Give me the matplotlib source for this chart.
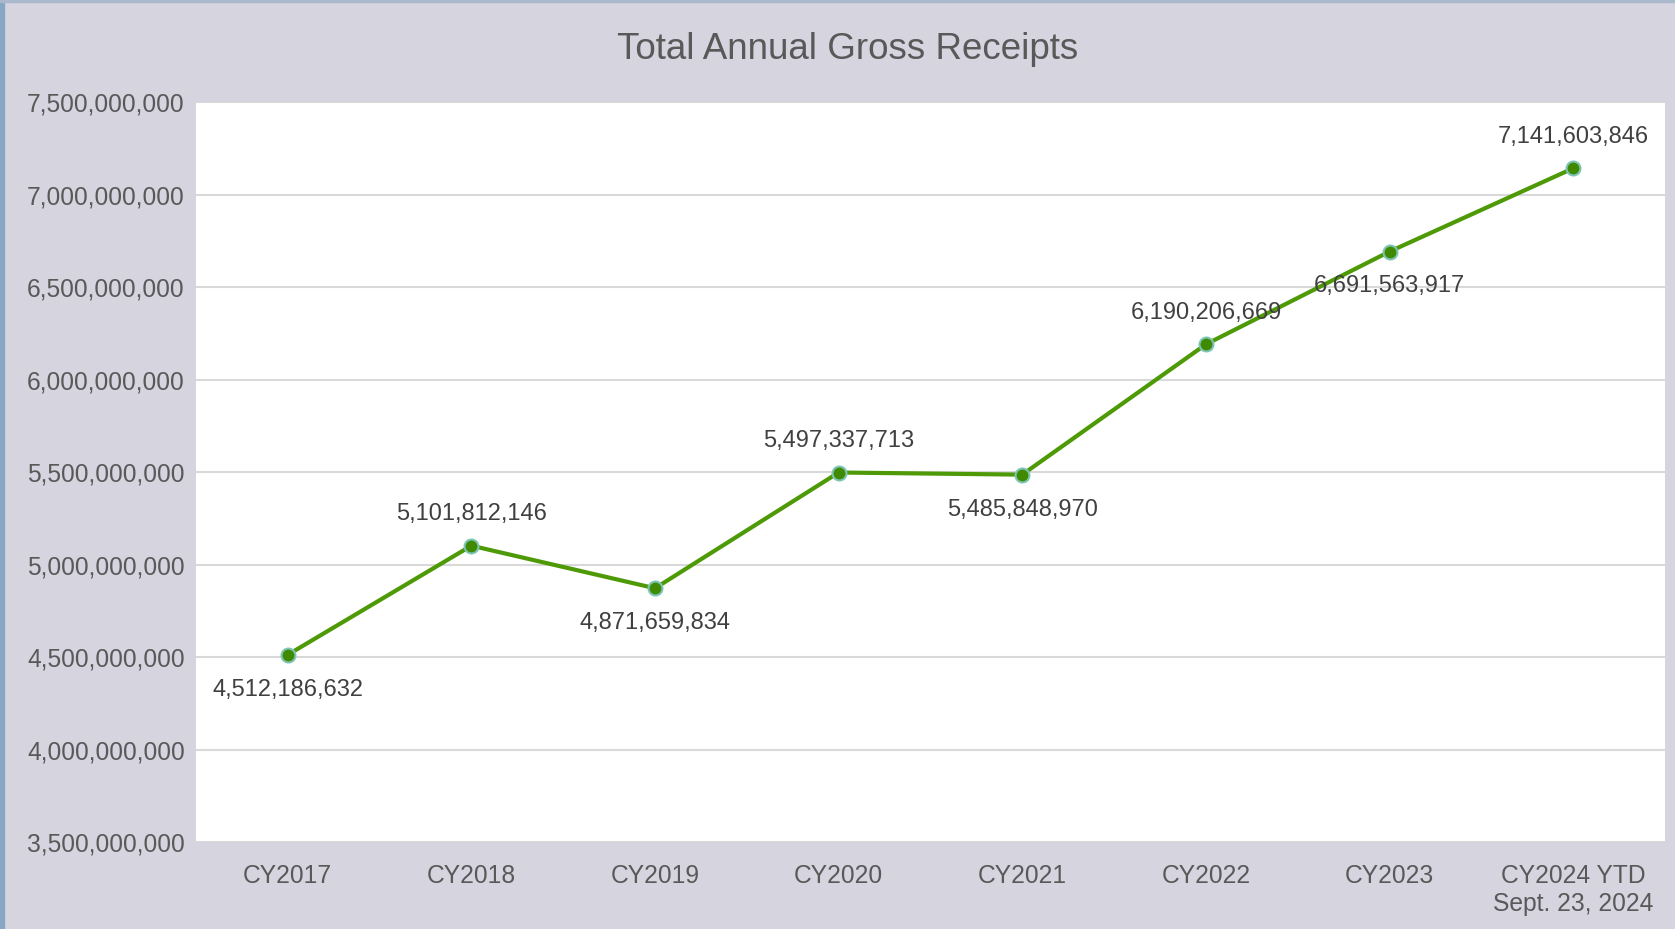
import matplotlib
matplotlib.use("Agg")
import matplotlib.pyplot as plt
import matplotlib.patches as mpatches
from matplotlib.ticker import FuncFormatter

# ── Data ──────────────────────────────────────────────────────────────────────
categories = ["CY2017", "CY2018", "CY2019", "CY2020", "CY2021",
              "CY2022", "CY2023", "CY2024 YTD\nSept. 23, 2024"]
receipts = [4512186632, 5101812146, 4871659834, 5497337713,
            5485848970, 6190206669, 6691563917, 7141603846]
label_side = ["below", "above", "below", "above", "below", "above", "below", "above"]

BG = "#d5d4df"
TXT = "#595959"
LINE = "#4e9a06"

plt.rcParams["font.family"] = ["Liberation Sans", "DejaVu Sans"]

fig = plt.figure(figsize=(16.75, 9.292), dpi=100, facecolor=BG)
ax = fig.add_axes([0.117, 0.0936, 0.877, 0.7964])
ax.set_facecolor("white")

x = list(range(len(categories)))
ax.plot(x, receipts, color=LINE, linewidth=3, zorder=3,
        marker="o", markersize=10, markerfacecolor="#3f8a00",
        markeredgecolor="#7cc4b4", markeredgewidth=1.5)

for xi, v, side in zip(x, receipts, label_side):
    dy = 23 if side == "above" else -25
    ax.annotate(f"{v:,}", (xi, v), xytext=(0, dy), textcoords="offset points",
                ha="center", va="center", fontsize=17, color="#404040", zorder=4)

ax.set_xlim(-0.5, len(categories) - 0.5)
ax.set_ylim(3.5e9, 7.5e9)
ax.set_yticks([3.5e9 + i * 5e8 for i in range(9)])
ax.yaxis.set_major_formatter(FuncFormatter(lambda v, p: f"{int(v):,}"))
ax.set_xticks(x)
ax.set_xticklabels(categories)
ax.grid(axis="y", color="#d9d9d9", linewidth=1.5, zorder=0)
ax.set_axisbelow(True)
for s in ax.spines.values():
    s.set_visible(False)
ax.tick_params(axis="both", length=0, colors=TXT, labelsize=17.7)
ax.tick_params(axis="x", pad=16)
ax.tick_params(axis="y", pad=8)

fig.text(0.506, 0.947, "Total Annual Gross Receipts", ha="center", va="center",
         fontsize=26.5, color=TXT)

# border strips
fig.patches.append(mpatches.Rectangle((0, 0), 4 / 1675, 1, transform=fig.transFigure,
                                      color="#87a7c4", zorder=10))
fig.patches.append(mpatches.Rectangle((0, 1 - 2 / 929), 1, 2 / 929, transform=fig.transFigure,
                                      color="#a9b8cc", zorder=10))

plt.savefig("out.png", dpi=100, facecolor=BG)
